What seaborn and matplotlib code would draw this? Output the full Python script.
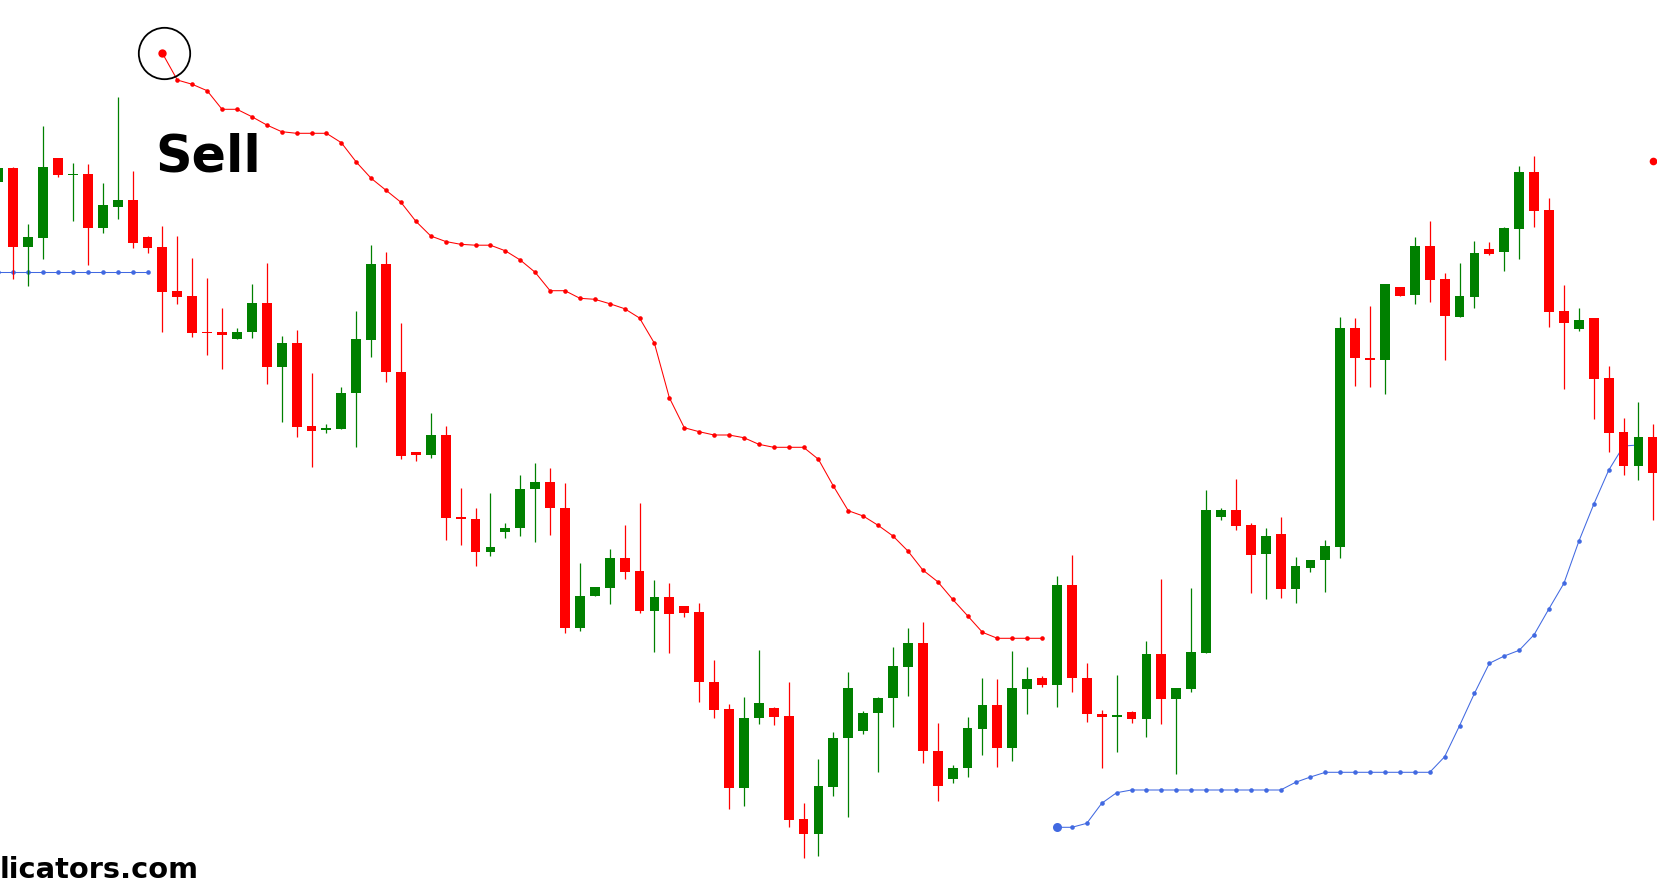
import numpy as np
import pandas as pd
import matplotlib
matplotlib.use("Agg")
import matplotlib.pyplot as plt
import seaborn as sns

# Candles (price in chart points, bar 0 = left edge)
opens = [703, 717, 638, 647, 727, 710, 711, 657, 678, 685,
         648, 638, 594, 589, 553, 553, 546, 553, 582, 518,
         542, 459, 455.5, 456, 492, 545, 621, 513, 433, 430,
         450, 367, 366, 333, 353, 357, 396, 403, 377, 257,
         289, 297, 327, 314, 274, 288, 279, 273, 203, 176,
         97, 167, 177, 169, 66, 51, 98, 147, 154, 172,
         187, 218, 242, 134, 106, 117, 156, 180, 137, 196,
         207, 200, 300, 207, 171, 169, 173, 166, 231, 186,
         196, 232, 368, 375, 360, 331, 351, 296, 317, 325,
         338, 557, 527, 525, 598, 590, 639, 606, 568, 588,
         636, 633, 656, 713, 675, 574, 556, 567, 507, 453,
         419, 448]
highs = [720, 718, 661, 759, 727, 722, 721, 702, 788, 714,
         649, 659, 649, 627, 607, 577, 557, 601, 622, 549,
         555, 512, 461, 498, 574, 640, 633, 562, 433, 472,
         459, 397, 377, 392, 362, 410, 422, 417, 402, 322,
         298, 336, 360, 382, 305, 302, 279, 282, 225, 181,
         188, 235, 178, 203, 82, 126, 153, 213, 174, 188,
         238, 257, 263, 162, 120, 168, 207, 206, 234, 218,
         209, 309, 330, 222, 175, 210, 174, 244, 306, 197,
         297, 395, 377, 406, 362, 357, 368, 328, 325, 345,
         568, 567, 579, 601, 598, 648, 664, 612, 622, 644,
         643, 658, 719, 729, 687, 600, 577, 567, 519, 467,
         483, 461]
lows = [699, 606, 599, 626, 708, 664, 620, 652, 666, 637,
        632, 553, 581, 548, 530, 516, 546, 547, 501, 463,
        448, 418, 452, 456, 438, 528, 503, 426, 424, 427,
        345, 340, 319, 329, 347, 349, 343, 350, 252, 254,
        289, 281, 306, 272, 233, 232, 268, 183, 167, 76,
        79, 161, 160, 58, 27, 29, 89, 68, 151, 113,
        158, 189, 122, 84, 102, 108, 130, 118, 124, 171,
        198, 178, 193, 163, 117, 133, 162, 148, 161, 111,
        193, 232, 365, 355, 292, 286, 287, 282, 313, 293,
        327, 499, 498, 491, 589, 581, 583, 525, 568, 577,
        630, 614, 626, 658, 558, 496, 554, 466, 433, 410,
        405, 365]
closes = [717, 638, 648, 718, 710, 711, 657, 680, 685, 642,
          637, 593, 588, 552, 552, 550, 553, 582, 518, 542,
          458, 454, 456.5, 492, 546, 621, 513, 429, 430, 450,
          367, 366.5, 333, 338, 357, 396, 403, 377, 257, 289,
          298, 327, 313, 274, 288, 271, 272, 203, 175, 97,
          167, 182, 168, 65, 51, 99, 147, 197, 172, 187,
          219, 242, 134, 99, 117, 157, 180, 137, 197, 206,
          200, 300, 207, 171, 168, 169.5, 166, 231, 186, 197,
          233, 375, 375, 359, 330, 349, 296, 319, 325, 339,
          557, 527, 525, 601, 589, 639, 605, 569, 589, 632,
          631, 657, 713, 674, 573, 562, 565, 506, 452, 419,
          448, 412]

# Trailing stop dots
buy_stop_early = [612.7] * 11          # bars 0-10
sell_first_bar = 11
sell_stop = [831.7, 805, 800.7, 794.3, 775.7, 775.7, 768.3, 760, 753.3, 751.7,
             751.7, 751.7, 742.3, 723, 706.7, 694.7, 682.7, 663.7, 649, 643.5,
             640.7, 639.8, 639.8, 634.2, 625, 612.7, 594.3, 594.3, 586.7, 585.7,
             581.3, 576.3, 567, 541.7, 487.3, 457.3, 453.3, 450, 450, 447.3,
             440.7, 437.7, 437.7, 437.7, 425.7, 399, 374.3, 369, 359.7, 349,
             334, 315, 303.3, 285.7, 269.3, 252.7, 246.7, 246.7, 246.7, 246.7]
buy_first_bar = 71
buy_stop = [57.7, 57.7, 61.7, 81.7, 92.3, 95, 95, 95, 95, 95,
            95, 95, 95, 95, 95, 95, 102.7, 108, 112.7, 112.7,
            112.7, 112.7, 112.7, 112.7, 112.7, 112.7, 128.3, 159.3, 191.7, 221.7,
            229, 234.7, 250.3, 276.3, 301.7, 343.7, 380.7, 414.7, 439, 440]
new_sell_bar = 111
new_sell_stop = 724.3

GREEN = "#008000"
RED = "#FF0000"
BLUE = "#4169E1"

sns.set_theme(style="white")
plt.rcParams["font.family"] = ["DejaVu Sans"]

fig = plt.figure(figsize=(16.58, 8.85), dpi=100)
ax = fig.add_axes([0, 0, 1, 1])
ax.set_axis_off()

df = pd.DataFrame({"open": opens, "high": highs, "low": lows, "close": closes})
df["bar"] = np.arange(len(df))
df["color"] = np.where(df["close"] >= df["open"], GREEN, RED)
height = (df["close"] - df["open"]).abs()
mid = (df["close"] + df["open"]) / 2
body_h = height.clip(lower=1.6)

ax.vlines(df["bar"], df["low"], df["high"], colors=df["color"], lw=0.9, zorder=3)
ax.bar(df["bar"], body_h, bottom=mid - body_h / 2, width=0.66,
       color=df["color"], linewidth=0, zorder=4)

# trailing stop lines
early = pd.DataFrame({"bar": np.arange(len(buy_stop_early)), "stop": buy_stop_early})
sell = pd.DataFrame({"bar": np.arange(sell_first_bar, sell_first_bar + len(sell_stop)),
                     "stop": sell_stop})
buy = pd.DataFrame({"bar": np.arange(buy_first_bar, buy_first_bar + len(buy_stop)),
                    "stop": buy_stop})
for d, c in [(early, BLUE), (sell, RED), (buy, BLUE)]:
    sns.lineplot(data=d, x="bar", y="stop", color=c, lw=0.75, marker="o",
                 markersize=3.3, markeredgewidth=0, errorbar=None, ax=ax, zorder=2)

# signal dots
ax.plot(sell["bar"].iloc[0], sell["stop"].iloc[0], "o", color=RED, ms=6, mew=0, zorder=5)
ax.plot(buy["bar"].iloc[0], buy["stop"].iloc[0], "o", color=BLUE, ms=6.5, mew=0, zorder=5)
ax.plot(new_sell_bar, new_sell_stop, "o", color=RED, ms=5.5, mew=0, zorder=5)
ax.plot(sell["bar"].iloc[0] + 0.13, sell["stop"].iloc[0], "o", ms=37, mfc="none",
        mec="black", mew=1.3, zorder=6)

ax.text(10.55, 713, "Sell", fontsize=36.5, fontweight="bold", color="black",
        ha="left", va="baseline", zorder=7)
fig.text(0.0, 1 - 878 / 885, "licators.com", fontsize=20.8, fontweight="bold",
         color="black", ha="left", va="baseline")

ax.axvline(111.22, ymin=0, ymax=(885 - 187) / 885, color="#b4b4b4", lw=0.7)

ax.set_xlim(0.107, 111.31)
ax.set_ylim(0, 885)
ax.set_xlabel("")
ax.set_ylabel("")

fig.savefig("out.png", dpi=100)
